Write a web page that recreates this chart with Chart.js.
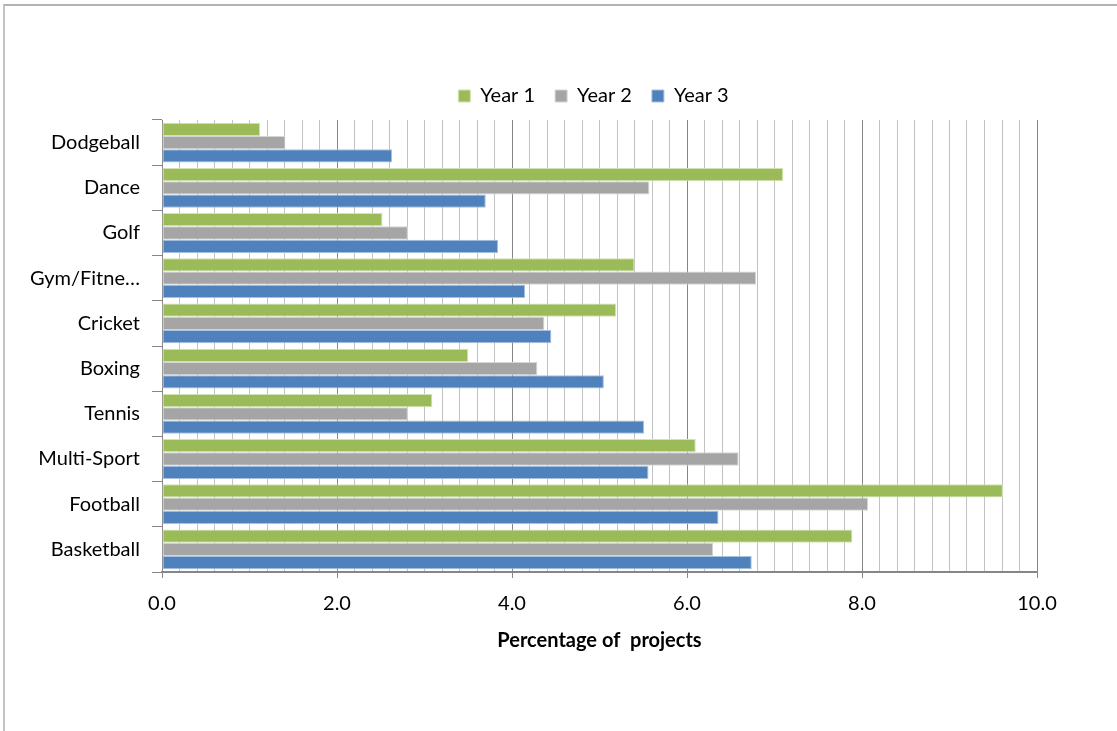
<!DOCTYPE html>
<html>
<head>
<meta charset="utf-8">
<script src="https://cdn.jsdelivr.net/npm/chart.js@4/dist/chart.umd.min.js"></script>
<style>
  html, body { margin: 0; padding: 0; background: #ffffff; overflow: hidden; }
  #frame {
    position: absolute; left: 3px; top: 4px; width: 1300px; height: 900px;
    border-top: 2px solid #b3b3b3; border-left: 2px solid #c4c4c4;
  }
  #wrap { position: absolute; left: 0; top: 0; width: 1117px; height: 731px; }
</style>
</head>
<body>
<div id="frame"></div>
<div id="wrap"><canvas id="chart" width="1117" height="731"></canvas></div>
<script>
// Sports, top to bottom
const categories = ['Dodgeball', 'Dance', 'Golf', 'Gym/Fitne\u2026', 'Cricket', 'Boxing', 'Tennis', 'Multi-Sport', 'Football', 'Basketball'];

// Share of projects (%) per sport
const year1 = [1.12, 7.10, 2.52, 5.40, 5.19, 3.50, 3.09, 6.10, 9.61, 7.89];
const year2 = [1.41, 5.57, 2.81, 6.79, 4.37, 4.29, 2.81, 6.59, 8.07, 6.30];
const year3 = [2.63, 3.70, 3.84, 4.15, 4.45, 5.05, 5.51, 5.56, 6.36, 6.74];

const seriesNames = ['Year 1', 'Year 2', 'Year 3'];
const axisTitle = 'Percentage of  projects';

// Value axis: labelled every 2, grid every 0.2
const axisMin = 0;
const axisMax = 10;
const gridStep = 0.2;
const labelStep = 2;

const FONT = 'Lato, "Open Sans", sans-serif';

function isLabelled(v) {
  const q = v / labelStep;
  return Math.abs(q - Math.round(q)) < 1e-6;
}

const colors = ['#9bbb59', '#a5a5a5', '#4f81bd'];
const edges = ['#d3e2b6', '#d6d6d6', '#a7c0df'];

// Keep the legend centred over the plot area, sitting a little higher
const legendPlacement = {
  id: 'legendPlacement',
  afterLayout(chart) {
    const L = chart.legend;
    if (!L) return;
    const a = chart.chartArea;
    const dx = (a.left + a.right) / 2 - (L.left + L.right) / 2 - 6;
    L.left += dx; L.right += dx;
    L.top -= 4; L.bottom -= 4;
  }
};

new Chart(document.getElementById('chart'), {
  type: 'bar',
  data: {
    labels: categories,
    datasets: [year1, year2, year3].map((vals, i) => ({
      label: seriesNames[i],
      data: vals,
      backgroundColor: colors[i],
      borderColor: edges[i],
      borderWidth: 1,
      borderSkipped: false,
      barPercentage: 1.0,
      categoryPercentage: 0.88
    }))
  },
  plugins: [legendPlacement],
  options: {
    indexAxis: 'y',
    responsive: false,
    animation: false,
    devicePixelRatio: 1,
    layout: { padding: { top: 70, right: 80, bottom: 0, left: 0 } },
    plugins: {
      legend: {
        position: 'top',
        labels: {
          color: '#000000',
          font: { family: FONT, size: 20 },
          boxWidth: 12,
          boxHeight: 12,
          padding: 20
        }
      },
      tooltip: { enabled: false }
    },
    scales: {
      x: {
        type: 'linear',
        min: axisMin,
        max: axisMax,
        afterFit: (s) => { s.height = 159; },
        border: { display: true, color: '#868686', width: 2 },
        grid: {
          color: (ctx) => (ctx.tick && isLabelled(ctx.tick.value)) ? '#868686' : '#c2c2c2',
          tickColor: (ctx) => (ctx.tick && isLabelled(ctx.tick.value)) ? '#868686' : 'rgba(0,0,0,0)',
          lineWidth: 1,
          tickLength: 6
        },
        ticks: {
          stepSize: gridStep,
          autoSkip: false,
          maxRotation: 0,
          minRotation: 0,
          maxTicksLimit: 100,
          padding: 14,
          color: '#000000',
          font: { family: FONT, size: 20 },
          callback: (v) => isLabelled(v) ? Number(v).toFixed(1) : ''
        },
        title: {
          display: true,
          text: axisTitle,
          color: '#000000',
          font: { family: FONT, size: 20, weight: 'bold', lineHeight: 1.2 },
          padding: { top: 0, bottom: 78 }
        }
      },
      y: {
        afterFit: (s) => { s.width = 162; },
        border: { display: true, color: '#868686', width: 1 },
        grid: {
          display: true,
          drawOnChartArea: false,
          offset: true,
          color: '#868686',
          tickLength: 10
        },
        ticks: {
          padding: 12,
          color: '#000000',
          font: { family: FONT, size: 20 }
        }
      }
    }
  }
});
</script>
</body>
</html>
